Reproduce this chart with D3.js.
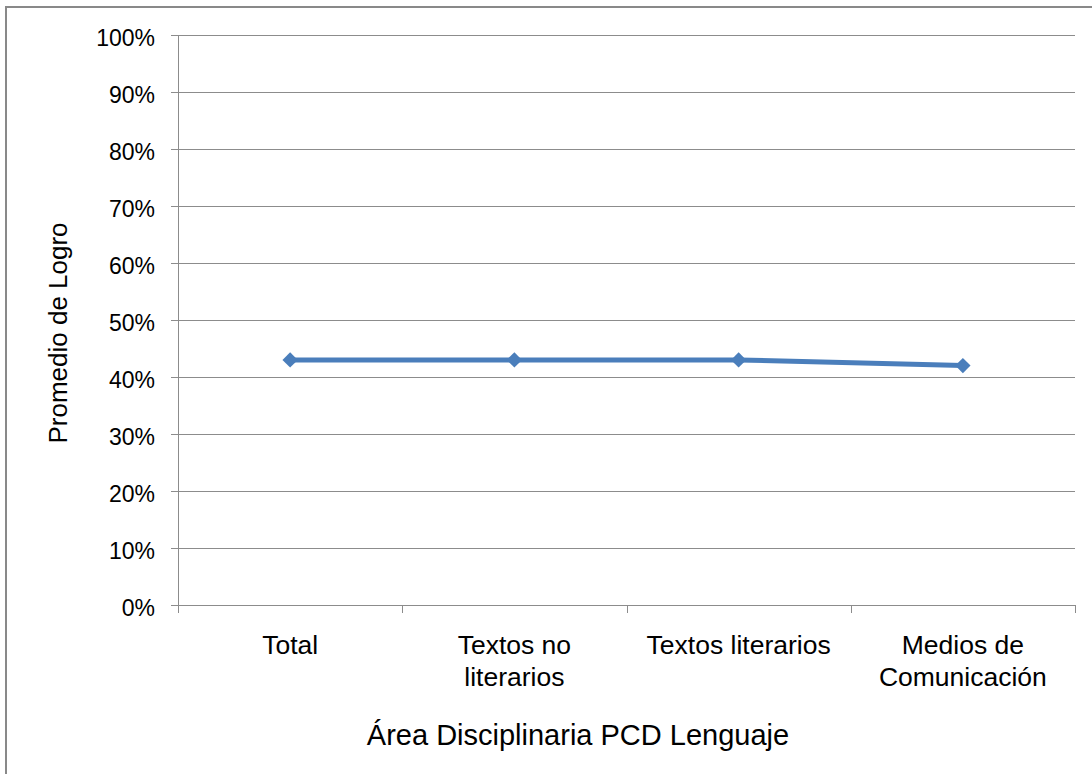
<!DOCTYPE html>
<html>
<head>
<meta charset="utf-8">
<script src="https://cdn.jsdelivr.net/npm/d3@7"></script>
<style>
  body { margin: 0; background: #fff; }
  svg text { font-family: "Liberation Sans", Arial, sans-serif; fill: #000; }
</style>
</head>
<body>
<div id="chart"></div>
<script>
  // values
  var categories = [ ["Total"], ["Textos no", "literarios"], ["Textos literarios"], ["Medios de", "Comunicación"] ];
  var logro = [ 0.43, 0.43, 0.43, 0.42 ];
  var yTicks = [ 0, 0.1, 0.2, 0.3, 0.4, 0.5, 0.6, 0.7, 0.8, 0.9, 1 ];

  var width = 1092, height = 774;
  var plot = { left: 178, right: 1075, top: 35, bottom: 605 };

  var svg = d3.select( "#chart" ).append( "svg" )
    .attr( "width", width ).attr( "height", height );

  // outer chart frame (runs off the right/bottom edge)
  svg.append( "rect" )
    .attr( "x", 6 ).attr( "y", 7 ).attr( "width", 1200 ).attr( "height", 900 )
    .attr( "fill", "none" ).attr( "stroke", "#898989" ).attr( "stroke-width", 2 );

  var x = d3.scaleBand()
    .domain( d3.range( categories.length ) )
    .range( [ plot.left, plot.right ] );

  var y = d3.scaleLinear().domain( [ 0, 1 ] ).range( [ plot.bottom, plot.top ] );

  // horizontal gridlines
  svg.append( "g" ).selectAll( "line" ).data( yTicks ).join( "line" )
    .attr( "x1", plot.left - 7 ).attr( "x2", plot.right )
    .attr( "y1", function( d ) { return Math.round( y( d ) ) + 0.5; } )
    .attr( "y2", function( d ) { return Math.round( y( d ) ) + 0.5; } )
    .attr( "stroke", "#8c8c8c" ).attr( "stroke-width", 1 );

  // y axis line
  svg.append( "line" )
    .attr( "x1", plot.left + 0.5 ).attr( "x2", plot.left + 0.5 )
    .attr( "y1", plot.top ).attr( "y2", plot.bottom + 8 )
    .attr( "stroke", "#8c8c8c" );

  // x tick marks at category boundaries
  var bounds = d3.range( categories.length + 1 ).map( function( i ) {
    return i < categories.length ? x( i ) : plot.right;
  } );
  svg.append( "g" ).selectAll( "line" ).data( bounds.slice( 1 ) ).join( "line" )
    .attr( "x1", function( d ) { return Math.round( d ) + 0.5; } )
    .attr( "x2", function( d ) { return Math.round( d ) + 0.5; } )
    .attr( "y1", plot.bottom ).attr( "y2", plot.bottom + 8 )
    .attr( "stroke", "#8c8c8c" );

  // y tick labels
  svg.append( "g" ).selectAll( "text" ).data( yTicks ).join( "text" )
    .attr( "x", 155 )
    .attr( "y", function( d ) { return y( d ) + 11; } )
    .attr( "text-anchor", "end" )
    .attr( "font-size", 23 )
    .text( d3.format( ".0%" ) );

  // category labels
  var cat = svg.append( "g" ).selectAll( "text" ).data( categories ).join( "text" )
    .attr( "text-anchor", "middle" )
    .attr( "font-size", 26.5 )
    .attr( "transform", function( d, i ) {
      return "translate(" + ( x( i ) + x.bandwidth() / 2 ) + ",654)";
    } );
  cat.selectAll( "tspan" ).data( function( d ) { return d; } ).join( "tspan" )
    .attr( "x", 0 )
    .attr( "dy", function( d, i ) { return i === 0 ? 0 : 32; } )
    .text( function( d ) { return d; } );

  // series line
  var line = d3.line()
    .x( function( d, i ) { return x( i ) + x.bandwidth() / 2; } )
    .y( function( d ) { return y( d ); } );

  svg.append( "path" ).datum( logro )
    .attr( "d", line )
    .attr( "fill", "none" )
    .attr( "stroke", "#4a7ebb" )
    .attr( "stroke-width", 5 );

  // diamond markers
  var diamond = d3.symbol().type( d3.symbolDiamond2 ).size( 150 );
  svg.append( "g" ).selectAll( "path" ).data( logro ).join( "path" )
    .attr( "d", diamond )
    .attr( "transform", function( d, i ) {
      return "translate(" + ( x( i ) + x.bandwidth() / 2 ) + "," + y( d ) + ")";
    } )
    .attr( "fill", "#4a7ebb" );

  // axis titles
  svg.append( "text" )
    .attr( "transform", "translate(67,333) rotate(-90)" )
    .attr( "text-anchor", "middle" )
    .attr( "font-size", 26 )
    .text( "Promedio de Logro" );

  svg.append( "text" )
    .attr( "x", 578 )
    .attr( "y", 745 )
    .attr( "text-anchor", "middle" )
    .attr( "font-size", 29 )
    .text( "Área Disciplinaria PCD Lenguaje" );
</script>
</body>
</html>
